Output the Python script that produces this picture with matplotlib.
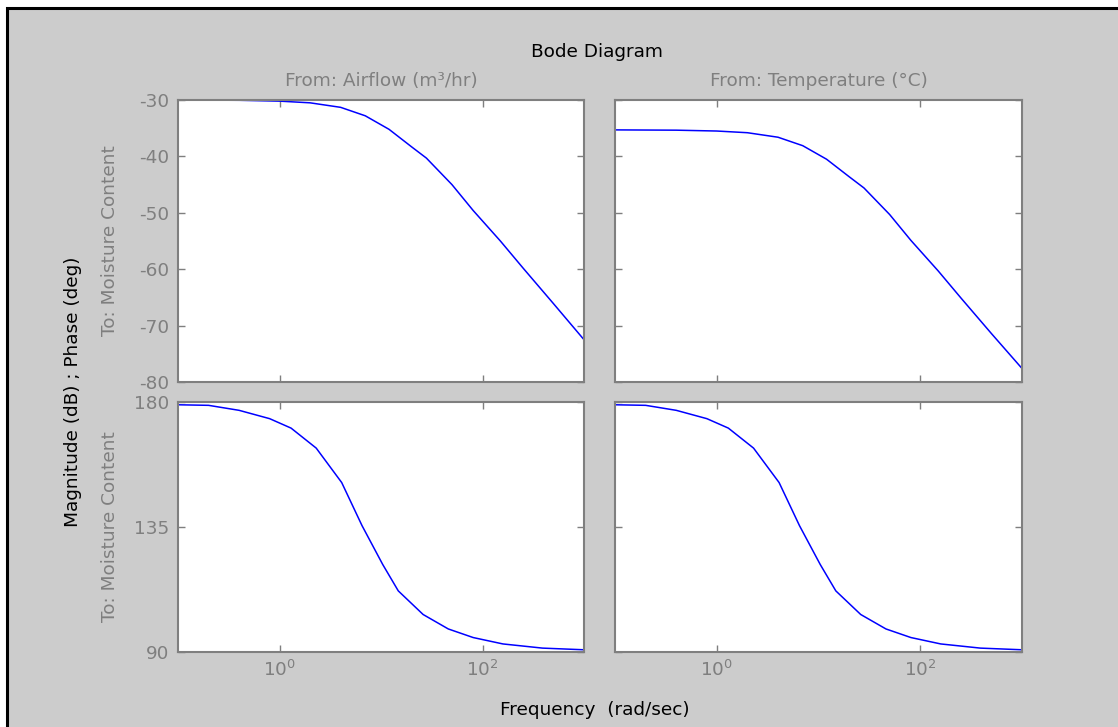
import numpy as np
import matplotlib.pyplot as plt
from matplotlib.patches import Rectangle

plt.rcParams['font.family'] = ['DejaVu Sans']
plt.rcParams['mathtext.fontset'] = 'dejavusans'
plt.rcParams['axes.unicode_minus'] = False

# frequency points (rad/sec) and responses
w_mag = [0.1, 0.4, 1, 2, 4, 7, 12, 20, 28, 50, 81, 150, 251, 500, 1000]
mag1 = [-30.0, -30.05, -30.2, -30.5, -31.3, -32.8, -35.2, -38.3, -40.3,
        -45.0, -49.6, -55.0, -59.8, -66.1, -72.5]
mag2 = [-35.3, -35.35, -35.5, -35.8, -36.6, -38.1, -40.5, -43.6, -45.6,
        -50.3, -54.9, -60.3, -65.1, -71.4, -77.6]

w_ph = [0.1, 0.2, 0.4, 0.8, 1.3, 2.3, 4.1, 6.5, 10.4, 14.8, 26, 46, 81, 159, 390, 1000]
ph1 = [179, 178.8, 177, 174, 170.6, 163.4, 151, 135.5, 121.5, 112, 103.5, 98.3, 95.2, 92.9, 91.4, 90.8]
ph2 = [179, 178.8, 177, 174, 170.6, 163.4, 151, 135.5, 121.5, 112, 103.5, 98.3, 95.2, 92.9, 91.4, 90.8]

inputs = ['From: Airflow (m\u00b3/hr)', 'From: Temperature (\u00b0C)']
output = 'To: Moisture Content'

bg = '#cccccc'
grey = '#7f7f7f'
fs = 13.3

fig = plt.figure(figsize=(11.18, 7.27), dpi=100, facecolor='white')
# window frame
fig.patches.append(Rectangle((7 / 1118, -0.1), 1.2, 1.1 - 8 / 727,
                             transform=fig.transFigure, facecolor=bg,
                             edgecolor='black', linewidth=2.2, zorder=-10))

W, H = 1118., 727.
cols = [(178, 584), (615, 1022)]
rows = [(100, 382), (402, 652)]

axes = {}
for r, (yt, yb) in enumerate(rows):
    for c, (xl, xr) in enumerate(cols):
        ax = fig.add_axes([xl / W, 1 - yb / H, (xr - xl) / W, (yb - yt) / H])
        ax.set_xscale('log')
        ax.set_xlim(0.1, 1000)
        ax.set_xticks([1, 100])
        ax.minorticks_off()
        ax.tick_params(which='both', direction='in', top=True, right=True,
                       length=5, width=1, colors=grey, labelcolor=grey,
                       labelsize=fs, pad=6)
        for s in ax.spines.values():
            s.set_color(grey)
            s.set_linewidth(1.5)
        if r == 0:
            ax.set_ylim(-80, -30)
            ax.set_yticks([-80, -70, -60, -50, -40, -30])
            ax.tick_params(labelbottom=False)
        else:
            ax.set_ylim(90, 180)
            ax.set_yticks([90, 135, 180])
        if c == 1:
            ax.tick_params(labelleft=False)
        axes[r, c] = ax

axes[0, 0].plot(w_mag, mag1, color='blue', lw=1.1)
axes[0, 1].plot(w_mag, mag2, color='blue', lw=1.1)
axes[1, 0].plot(w_ph, ph1, color='blue', lw=1.1)
axes[1, 1].plot(w_ph, ph2, color='blue', lw=1.1)

for c, name in enumerate(inputs):
    axes[0, c].set_title(name, color=grey, fontsize=fs, pad=10)
# both rows share the same label column
for r in range(2):
    axes[r, 0].set_ylabel(output, color=grey, fontsize=fs)
    axes[r, 0].yaxis.set_label_coords(-(178 - 119) / 406, 0.5)

fig.text(597 / W, 1 - 52 / H, 'Bode Diagram', ha='center', va='center', fontsize=fs)
fig.text(73 / W, 1 - 392 / H, 'Magnitude (dB) ; Phase (deg)', ha='center',
         va='center', rotation=90, fontsize=fs)
fig.text(595 / W, 1 - 710 / H, 'Frequency  (rad/sec)', ha='center',
         va='center', fontsize=fs)

fig.savefig('out.png', dpi=100, facecolor=fig.get_facecolor())
